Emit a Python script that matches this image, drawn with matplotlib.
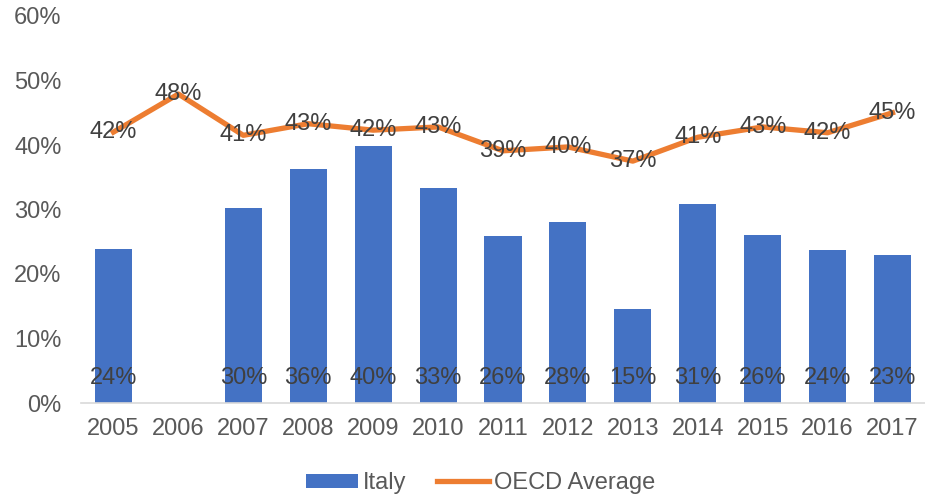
import numpy as np
import matplotlib
matplotlib.use("Agg")
import matplotlib.pyplot as plt
from matplotlib.patches import Patch
from matplotlib.lines import Line2D

years = ["2005", "2006", "2007", "2008", "2009", "2010", "2011", "2012", "2013", "2014", "2015", "2016", "2017"]
italy = [23.9, np.nan, 30.2, 36.3, 39.8, 33.3, 25.9, 28.1, 14.6, 30.9, 26.0, 23.7, 22.9]
italy_labels = ["24%", "", "30%", "36%", "40%", "33%", "26%", "28%", "15%", "31%", "26%", "24%", "23%"]
oecd = [42.0, 47.9, 41.5, 43.3, 42.3, 42.8, 39.1, 39.7, 37.5, 41.2, 42.8, 41.9, 45.0]
oecd_labels = ["42%", "48%", "41%", "43%", "42%", "43%", "39%", "40%", "37%", "41%", "43%", "42%", "45%"]
yticks = [0, 10, 20, 30, 40, 50, 60]
ytick_labels = ["0%", "10%", "20%", "30%", "40%", "50%", "60%"]

plt.rcParams['font.family'] = ['Liberation Sans', 'DejaVu Sans']

fig = plt.figure(figsize=(9.25, 5), dpi=100)
ax = fig.add_axes([81/925, 1 - 403/500, 1 - 81/925, (403 - 16)/500])

x = np.arange(len(years))
bar_color = "#4472C4"
line_color = "#ED7D31"
lab_color = "#404040"
tick_color = "#595959"
fs = 17

ax.bar(x, italy, width=0.57, color=bar_color, zorder=2)
ax.plot(x, oecd, color=line_color, lw=3.8, solid_joinstyle='round', zorder=3)

for xi, v, lab in zip(x, italy, italy_labels):
    if lab:
        ax.text(xi, 3.8, lab, ha='center', va='center', fontsize=fs, color=lab_color, zorder=4)
for xi, v, lab in zip(x, oecd, oecd_labels):
    ax.text(xi, v, lab, ha='center', va='center', fontsize=fs, color=lab_color, zorder=4)

ax.set_xlim(-0.5, len(years) - 0.5)
ax.set_ylim(0, 60)
ax.set_yticks(yticks)
ax.set_yticklabels(ytick_labels)
ax.set_xticks(x)
ax.set_xticklabels(years)
ax.tick_params(axis='both', length=0, labelsize=fs, colors=tick_color)
ax.tick_params(axis='x', pad=11)
ax.tick_params(axis='y', pad=14)
for s in ['top', 'right', 'left']:
    ax.spines[s].set_visible(False)
ax.spines['bottom'].set_color('#D9D9D9')
ax.spines['bottom'].set_linewidth(1.2)

handles = [Patch(facecolor=bar_color, edgecolor='none', label='Italy'),
           Line2D([0], [0], color=line_color, lw=3.8, label='OECD Average')]
leg = fig.legend(handles=handles, loc='center', bbox_to_anchor=(480.5/925, 1 - 483/500), ncol=2,
                 frameon=False, fontsize=fs, handlelength=2.2, handleheight=0.55,
                 columnspacing=1.3, handletextpad=0.2)
for t in leg.get_texts():
    t.set_color(tick_color)

fig.savefig("out.png", dpi=100)
